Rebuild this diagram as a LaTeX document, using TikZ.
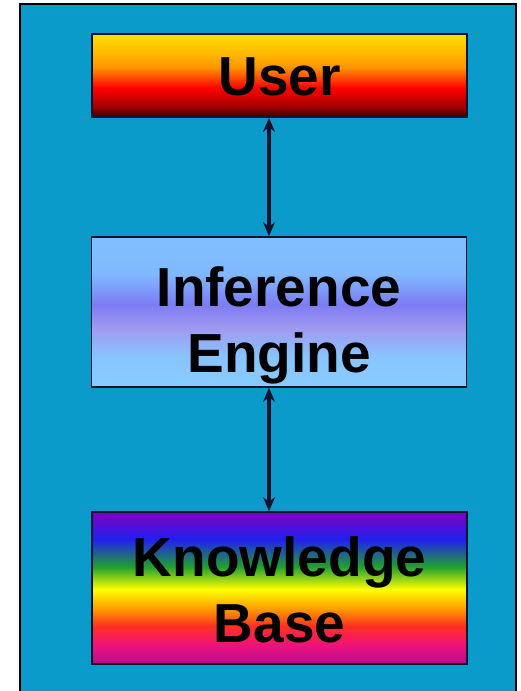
\documentclass[tikz,border=0pt]{standalone}
\usepackage{fontspec}
\setmainfont{Liberation Sans}
\usetikzlibrary{arrows.meta}

\definecolor{panel}{HTML}{0A9BCB}
\definecolor{ink}{HTML}{0E1430}

% vertical ramps; the filled box spans 25bp (bottom) to 75bp (top)
\pgfdeclareverticalshading{usershade}{100bp}{
  color(0bp)=(rgb,255:red,48;green,0;blue,0);
  color(25bp)=(rgb,255:red,48;green,0;blue,0);
  color(31bp)=(rgb,255:red,160;green,0;blue,0);
  color(42.5bp)=(rgb,255:red,255;green,0;blue,0);
  color(55bp)=(rgb,255:red,255;green,150;blue,0);
  color(67.5bp)=(rgb,255:red,255;green,200;blue,0);
  color(75bp)=(rgb,255:red,255;green,222;blue,0);
  color(100bp)=(rgb,255:red,255;green,222;blue,0)}
\pgfdeclareverticalshading{engineshade}{100bp}{
  color(0bp)=(rgb,255:red,136;green,204;blue,255);
  color(25bp)=(rgb,255:red,136;green,204;blue,255);
  color(35bp)=(rgb,255:red,136;green,196;blue,255);
  color(45bp)=(rgb,255:red,160;green,152;blue,240);
  color(52.5bp)=(rgb,255:red,124;green,124;blue,244);
  color(62.5bp)=(rgb,255:red,128;green,184;blue,255);
  color(75bp)=(rgb,255:red,128;green,192;blue,255);
  color(100bp)=(rgb,255:red,128;green,192;blue,255)}
\pgfdeclareverticalshading{baseshade}{100bp}{
  color(0bp)=(rgb,255:red,176;green,16;blue,143);
  color(25bp)=(rgb,255:red,176;green,16;blue,143);
  color(31bp)=(rgb,255:red,240;green,16;blue,128);
  color(37.5bp)=(rgb,255:red,255;green,48;blue,32);
  color(43bp)=(rgb,255:red,255;green,153;blue,0);
  color(49.5bp)=(rgb,255:red,255;green,255;blue,0);
  color(57bp)=(rgb,255:red,32;green,160;blue,48);
  color(66bp)=(rgb,255:red,32;green,32;blue,240);
  color(75bp)=(rgb,255:red,128;green,0;blue,192);
  color(100bp)=(rgb,255:red,128;green,0;blue,192)}

\tikzset{
  stage/.style={draw=ink, line width=1.6pt, minimum width=375pt, inner sep=0pt},
  caption/.style={align=center, inner sep=0pt, text=black,
    font=\bfseries\fontsize{55}{66}\selectfont},
  link/.style={draw=ink, line width=3.5pt,
    {Stealth[length=14pt,width=12pt]}-{Stealth[length=14pt,width=12pt]}}
}

\begin{document}
\begin{tikzpicture}[x=1pt,y=1pt]
  \useasboundingbox (0,0) rectangle (521,691);
  \fill[white] (0,0) rectangle (521,691);
  % background panel
  \draw[black, line width=1.5pt, fill=panel] (20,-5) rectangle (516,687);

  % the three stages
  \node[stage, shading=usershade, minimum height=83pt] (user) at (279.5,615.5) {};
  \node[stage, shading=engineshade, minimum height=150pt] (engine) at (279,379) {};
  \node[stage, shading=baseshade, minimum height=152pt] (kb) at (279.5,103) {};

  \node[caption] (usertext) at ([yshift=-1pt]user.center) {User};
  \node[caption] (enginetext) at ([yshift=-13pt]engine.center) {Inference\\Engine};
  \node[caption] (kbtext) at ([yshift=-2pt]kb.center) {Knowledge\\Base};

  % two-way links
  \draw[link] ([xshift=-10.5pt]user.south) -- ([xshift=-10pt]engine.north);
  \draw[link] ([xshift=-10pt]engine.south) -- ([xshift=-10.5pt]kb.north);
\end{tikzpicture}
\end{document}
